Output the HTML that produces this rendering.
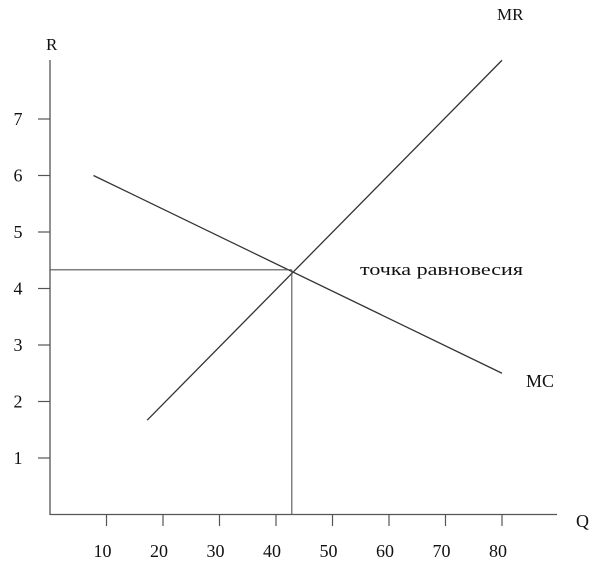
<!DOCTYPE html>
<html><head><meta charset="utf-8"><style>
body{margin:0;background:#fff;width:600px;height:568px;overflow:hidden}
text{font-family:"Liberation Serif",serif;fill:#111}
</style></head><body>
<svg id="c" width="600" height="568">
<line x1="50" y1="60" x2="50" y2="515" stroke="#555" stroke-width="1.3"/>
<line x1="50" y1="514.5" x2="557" y2="514.5" stroke="#555" stroke-width="1.3"/>
<text x="46" y="50" font-size="17">R</text>
<text x="576" y="527" font-size="18">Q</text>
<text x="497" y="20" font-size="17">MR</text>
<text x="526" y="387" font-size="18">MC</text>
<text x="360" y="275" font-size="16.5" textLength="163" lengthAdjust="spacingAndGlyphs">точка равновесия</text>
<g id="g"></g>
</svg>
<script>
const xTicks=[10,20,30,40,50,60,70,80];
const xTickLabels=["10","20","30","40","50","60","70","80"];
const yTicks=[1,2,3,4,5,6,7];
const yTickLabels=["1","2","3","4","5","6","7"];
const mrQ=[17.2,80];const mrR=[1.67,8.04];
const mcQ=[7.7,80];const mcR=[6.0,2.5];
const eqQ=[42.8];const eqR=[4.33];
const X=q=>50+q*5.65, Y=r=>514.5-r*56.5;
const g=document.getElementById('g');const NS='http://www.w3.org/2000/svg';
function ln(x1,y1,x2,y2,c,w){const l=document.createElementNS(NS,'line');l.setAttribute('x1',x1);l.setAttribute('y1',y1);l.setAttribute('x2',x2);l.setAttribute('y2',y2);l.setAttribute('stroke',c);l.setAttribute('stroke-width',w);g.appendChild(l);return l;}
function tx(x,y,s,a){const t=document.createElementNS(NS,'text');t.setAttribute('x',x);t.setAttribute('y',y);t.setAttribute('font-size',18);t.setAttribute('text-anchor',a);t.textContent=s;g.appendChild(t);return t;}
xTicks.forEach((q,i)=>{const l=ln(X(q),514.5,X(q),526,'#555',1.2);


const t=tx(X(q)-4,557,xTickLabels[i],'middle');

});
yTicks.forEach((r,i)=>{const l=ln(38,Y(r),50,Y(r),'#555',1.2);


const t=tx(18,Y(r)+6,yTickLabels[i],'middle');

});
const mr=ln(X(mrQ[0]),Y(mrR[0]),X(mrQ[1]),Y(mrR[1]),'#333',1.3);


const mc=ln(X(mcQ[0]),Y(mcR[0]),X(mcQ[1]),Y(mcR[1]),'#333',1.3);


const h=ln(50,Y(eqR[0]),X(eqQ[0]),Y(eqR[0]),'#555',1.1);


const v=ln(X(eqQ[0]),Y(eqR[0]),X(eqQ[0]),514.5,'#555',1.1);


</script>
</body></html>
